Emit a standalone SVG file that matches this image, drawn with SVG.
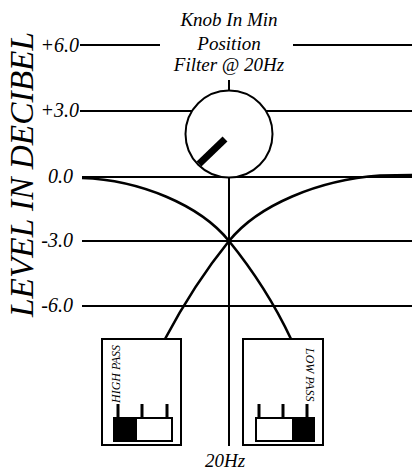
<svg xmlns="http://www.w3.org/2000/svg" width="412" height="474" viewBox="0 0 412 474">
<style>
text{font-family:"Liberation Serif","Times New Roman",serif;font-style:italic;fill:#000}
.grid{stroke:#000;stroke-width:2;fill:none}
.curve{stroke:#000;stroke-width:2.6;fill:none}
.box{stroke:#000;stroke-width:2;fill:#fff}
.tick{stroke:#000;stroke-width:3}
.lbl{font-size:19px}
.num{font-size:20px}
.small{font-size:12px}
</style>
<rect width="412" height="474" fill="#fff"/>
<g id="axis">
<text transform="translate(33,174.5) rotate(-90)" text-anchor="middle" font-size="33" textLength="285" lengthAdjust="spacingAndGlyphs">LEVEL IN DECIBEL</text>
<text class="num" x="79" y="52" text-anchor="end">+6.0</text>
<text class="num" x="79" y="117" text-anchor="end">+3.0</text>
<text class="num" x="73" y="183" text-anchor="end">0.0</text>
<text class="num" x="73" y="247" text-anchor="end">-3.0</text>
<text class="num" x="73" y="312" text-anchor="end">-6.0</text>
</g>
<g id="connectors">
<line class="grid" x1="80" y1="45" x2="160" y2="45"/>
<line class="grid" x1="293" y1="45" x2="412" y2="45"/>
<line class="grid" x1="80" y1="111" x2="412" y2="111"/>
<line class="grid" x1="82" y1="177" x2="412" y2="177"/>
<line class="grid" x1="82" y1="241" x2="412" y2="241"/>
<line class="grid" x1="82" y1="306" x2="412" y2="306"/>
<line class="grid" x1="229" y1="80" x2="229" y2="92"/>
<line class="grid" x1="229" y1="176" x2="229" y2="446"/>
<path class="curve" d="M82,178 C140,180 200,205 229,241 C255,273 275,305 291,339"/>
<path class="curve" d="M412,175 L380,175.5 C318,180 258,205 229,241 C203,273 183,305 165,339"/>
</g>
<g id="title">
<text class="lbl" x="229" y="26" text-anchor="middle">Knob In Min</text>
<text class="lbl" x="229" y="50" text-anchor="middle">Position</text>
<text class="lbl" x="229" y="71" text-anchor="middle">Filter @ 20Hz</text>
</g>
<g id="knob">
<circle cx="229" cy="134" r="43.5" fill="#fff" stroke="#000" stroke-width="2"/>
<line x1="199" y1="164" x2="225" y2="139" stroke="#000" stroke-width="7"/>
</g>
<g id="highpass">
<rect class="box" x="102" y="339" width="79" height="106"/>
<text class="small" transform="translate(120,403) rotate(-90)">HIGH PASS</text>
<line class="tick" x1="118" y1="404" x2="118" y2="417"/>
<line class="tick" x1="142" y1="404" x2="142" y2="417"/>
<line class="tick" x1="167" y1="404" x2="167" y2="417"/>
<rect x="114" y="418" width="58" height="23" fill="#fff" stroke="#000" stroke-width="2"/>
<rect x="114" y="418" width="23" height="23" fill="#000"/>
</g>
<g id="lowpass">
<rect class="box" x="243" y="339" width="80" height="106"/>
<text class="small" transform="translate(306,348) rotate(90)">LOW PASS</text>
<line class="tick" x1="259" y1="404" x2="259" y2="417"/>
<line class="tick" x1="283" y1="404" x2="283" y2="417"/>
<line class="tick" x1="307" y1="404" x2="307" y2="417"/>
<rect x="256" y="418" width="58" height="23" fill="#fff" stroke="#000" stroke-width="2"/>
<rect x="292" y="418" width="22" height="23" fill="#000"/>
</g>
<g id="freq">
<text class="lbl" x="225" y="467" text-anchor="middle">20Hz</text>
</g>
</svg>
